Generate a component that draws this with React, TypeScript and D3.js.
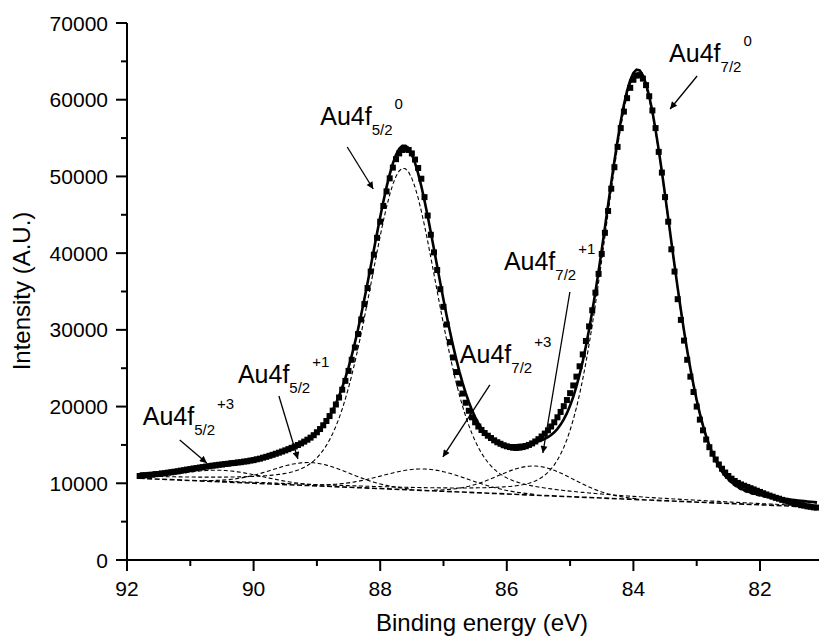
import React from "react";
import * as d3 from "d3";

// measured spectrum, 0.05 eV steps from 91.80 eV down to 81.10 eV
const energyStart = 91.8;
const energyStep = 0.05;
const counts = [
  10950, 11040, 11030, 11100, 11120, 11190, 11210, 11290, 11310, 11390,
  11430, 11510, 11550, 11650, 11690, 11790, 11840, 11930, 11970, 12050,
  12090, 12180, 12220, 12300, 12330, 12410, 12440, 12510, 12550, 12620,
  12650, 12720, 12750, 12830, 12870, 12960, 13020, 13130, 13210, 13340,
  13450, 13580, 13710, 13850, 13990, 14140, 14290, 14450, 14620, 14800,
  14990, 15200, 15430, 15680, 15950, 16270, 16650, 17070, 17560, 18120,
  18760, 19470, 20270, 21180, 22200, 23350, 24650, 26100, 27700, 29450,
  31350, 33350, 35450, 37600, 39800, 42000, 44100, 46150, 48050, 49750,
  51150, 52250, 53000, 53450, 53600, 53450, 53000, 52200, 51100, 49700,
  47300, 44900, 42400, 40100, 37800, 35300, 33000, 30700, 28400, 26400,
  24500, 23000, 21700, 20500, 19450, 18600, 17950, 17400, 16950, 16550,
  16200, 15900, 15600, 15350, 15150, 14960, 14820, 14720, 14640, 14600,
  14650, 14720, 14830, 15000, 15200, 15450, 15750, 16100, 16480, 16900,
  17400, 17950, 18600, 19300, 20050, 20850, 21750, 22750, 23900, 25250,
  26800, 28550, 30450, 32550, 34850, 37300, 39900, 42650, 45500, 48400,
  51200, 53850, 56300, 58450, 60200, 61550, 62600, 63150, 63200, 62750,
  61900, 60450, 58600, 56300, 53200, 50500, 47300, 44100, 40500, 37600,
  34000, 31300, 28600, 26100, 23900, 21900, 20000, 18300, 16900, 15700,
  14700, 13850, 13100, 12450, 11900, 11400, 10950, 10600, 10300, 10050,
  9850, 9680, 9520, 9360, 9200, 9030, 8870, 8700, 8540, 8390,
  8250, 8100, 7990, 7840, 7730, 7590, 7490, 7360, 7280, 7150,
  7090, 6990, 6940, 6860, 6830,
];

// fitted components (pseudo-Voigt peaks on a linear background)
const peakCentre = [83.93, 87.63, 85.55, 87.29, 89.1, 90.5];
const peakHeight = [55600, 41900, 3800, 2800, 3000, 1500];
const peakFwhm = [1.25, 1.3, 1.4, 1.6, 1.45, 1.5];
const peakLorentz = [0.2, 0.3, 0, 0, 0, 0];
const bgEnergy = [92, 81];
const bgCounts = [10717, 6845];

// annotations
const annSub = ["7/2", "5/2", "7/2", "7/2", "5/2", "5/2"];
const annSup = ["0", "0", "+1", "+3", "+3", "+1"];
const annTipEnergy = [83.42, 88.11, 85.43, 87.01, 90.74, 89.3];
const annTipCounts = [58790, 48360, 13950, 13430, 12640, 13170];

const xMajor = [92, 90, 88, 86, 84, 82];
const xMinor = [91, 89, 87, 85, 83, 81];
const yMajor = [0, 10000, 20000, 30000, 40000, 50000, 60000, 70000];
const yMinor = [5000, 15000, 25000, 35000, 45000, 55000, 65000];

const W = 819;
const H = 642;
const font = "'Liberation Sans', Arial, Helvetica, sans-serif";

// pixel offsets of arrow tail and label relative to arrow tip
const annTail = [[27, -33], [-26, -42], [27, -161], [47, -72], [-27, -23], [-19, -63]];
const annText = [[-1, -47], [-53, -64], [-39, -183], [17, -94], [-64, -38], [-60, -76]];

const energy = counts.map((_, i) => +(energyStart - i * energyStep).toFixed(2));

const x = d3.scaleLinear().domain([92, 81]).range([127, 823.3]);
const y = d3.scaleLinear().domain([0, 70000]).range([560, 23]);
const bg = d3.scaleLinear().domain(bgEnergy).range(bgCounts);

function peak(e: number, i: number) {
  const t = (e - peakCentre[i]) / peakFwhm[i];
  const m = peakLorentz[i];
  return peakHeight[i] * ((1 - m) * Math.exp(-4 * Math.LN2 * t * t) + m / (1 + 4 * t * t));
}

const line = d3
  .line<[number, number]>()
  .x((d) => x(d[0]))
  .y((d) => y(d[1]));

export default function App() {
  // draw each component only where it stands clear of the background
  const components = peakCentre.map((_, i) =>
    line(
      energy
        .filter((e) => peak(e, i) > 90)
        .map((e) => [e, bg(e) + peak(e, i)] as [number, number])
    )
  );
  const envelope = line(
    energy.map((e) => [e, bg(e) + peakCentre.reduce((s, _, i) => s + peak(e, i), 0)] as [number, number])
  );
  const bgLine = line([energy[0], energy[energy.length - 1]].map((e) => [e, bg(e)] as [number, number]));

  const x0 = x.range()[0];
  const y0 = y.range()[0];

  return (
    <svg
      width={W}
      height={H}
      style={{ position: "absolute", left: 0, top: 0, background: "#fff" }}
      fontFamily={font}
    >
      <defs>
        <marker
          id="arr"
          viewBox="0 0 10 10"
          refX="10"
          refY="5"
          markerUnits="userSpaceOnUse"
          markerWidth="11"
          markerHeight="7"
          orient="auto"
        >
          <path d="M0,0 L10,5 L0,10 z" fill="#000" />
        </marker>
      </defs>

      {/* fit components */}
      {components.map((d, i) => (
        <path key={i} d={d || ""} fill="none" stroke="#000" strokeWidth={1.1} strokeDasharray="4 2.5" />
      ))}
      <path d={bgLine || ""} fill="none" stroke="#000" strokeWidth={1.6} strokeDasharray="5 2.5" />

      {/* envelope */}
      <path d={envelope || ""} fill="none" stroke="#000" strokeWidth={2.6} />

      {/* data points */}
      {energy.map((e, i) => (
        <rect key={i} x={x(e) - 3} y={y(counts[i]) - 3} width={6} height={6} fill="#000" />
      ))}

      {/* axes */}
      <line x1={x0} x2={W} y1={y0} y2={y0} stroke="#000" strokeWidth={2} />
      <line x1={x0} x2={x0} y1={y(70000)} y2={y0 + 1} stroke="#000" strokeWidth={2} />
      {xMajor.map((t) => (
        <g key={t}>
          <line x1={x(t)} x2={x(t)} y1={y0} y2={y0 + 11} stroke="#000" strokeWidth={2} />
          <text x={x(t)} y={596} fontSize={21} textAnchor="middle">
            {t}
          </text>
        </g>
      ))}
      {xMinor.map((t) => (
        <line key={t} x1={x(t)} x2={x(t)} y1={y0} y2={y0 + 6} stroke="#000" strokeWidth={2} />
      ))}
      {yMajor.map((t) => (
        <g key={t}>
          <line x1={x0 - 11} x2={x0} y1={y(t)} y2={y(t)} stroke="#000" strokeWidth={2} />
          <text x={108} y={y(t) + 7.5} fontSize={21} textAnchor="end">
            {t}
          </text>
        </g>
      ))}
      {yMinor.map((t) => (
        <line key={t} x1={x0 - 6} x2={x0} y1={y(t)} y2={y(t)} stroke="#000" strokeWidth={2} />
      ))}

      <text x={482} y={631} fontSize={24} textAnchor="middle">
        Binding energy (eV)
      </text>
      <text transform="translate(30,291) rotate(-90)" fontSize={24} textAnchor="middle">
        Intensity (A.U.)
      </text>

      {/* peak labels */}
      {annSub.map((s, i) => {
        const tx = x(annTipEnergy[i]);
        const ty = y(annTipCounts[i]);
        return (
          <g key={i}>
            <line
              x1={tx + annTail[i][0]}
              y1={ty + annTail[i][1]}
              x2={tx}
              y2={ty}
              stroke="#000"
              strokeWidth={1.3}
              markerEnd="url(#arr)"
            />
            <text x={tx + annText[i][0]} y={ty + annText[i][1]} fontSize={25}>
              Au4f
              <tspan fontSize={15} dy={10}>
                {s}
              </tspan>
              <tspan fontSize={15} dx={2} dy={-26}>
                {annSup[i]}
              </tspan>
            </text>
          </g>
        );
      })}
    </svg>
  );
}
